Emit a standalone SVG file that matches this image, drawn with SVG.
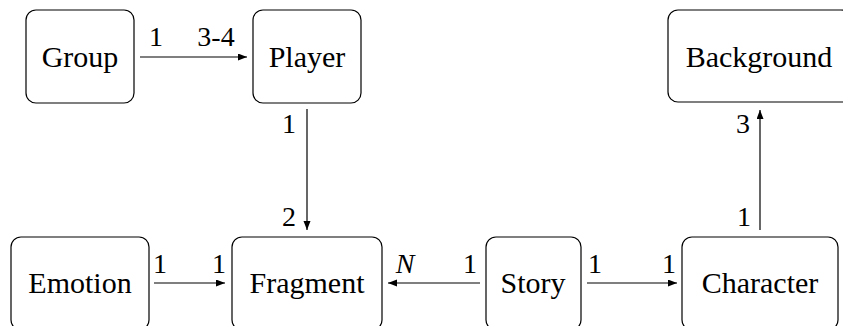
<svg xmlns="http://www.w3.org/2000/svg" width="843" height="326" viewBox="0 0 843 326">
<defs>
<marker id="ah" markerUnits="userSpaceOnUse" markerWidth="10" markerHeight="8" refX="9" refY="3.5" orient="auto">
<path d="M0,0 L9,3.5 L0,7 Z" fill="#000"/>
</marker>
</defs>
<g id="nodes" fill="#fff" stroke="#000" stroke-width="1.2">
<g id="group"><rect x="26" y="10" width="108" height="93" rx="10"/><text x="80" y="67" font-family="Times New Roman, serif" font-size="30" fill="#000" stroke="none" text-anchor="middle">Group</text></g>
<g id="player"><rect x="253" y="10" width="108" height="93" rx="10"/><text x="307" y="67" font-family="Times New Roman, serif" font-size="30" fill="#000" stroke="none" text-anchor="middle">Player</text></g>
<g id="background"><rect x="668" y="10" width="183" height="92" rx="10"/><text x="759" y="67" font-family="Times New Roman, serif" font-size="30" fill="#000" stroke="none" text-anchor="middle">Background</text></g>
<g id="emotion"><rect x="11" y="237" width="138" height="93" rx="10"/><text x="80" y="293" font-family="Times New Roman, serif" font-size="30" fill="#000" stroke="none" text-anchor="middle">Emotion</text></g>
<g id="fragment"><rect x="232" y="237" width="150" height="93" rx="10"/><text x="307" y="293" font-family="Times New Roman, serif" font-size="30" fill="#000" stroke="none" text-anchor="middle">Fragment</text></g>
<g id="story"><rect x="486" y="237" width="95" height="93" rx="10"/><text x="533" y="293" font-family="Times New Roman, serif" font-size="30" fill="#000" stroke="none" text-anchor="middle">Story</text></g>
<g id="character"><rect x="682" y="237" width="156" height="93" rx="10"/><text x="760" y="293" font-family="Times New Roman, serif" font-size="30" fill="#000" stroke="none" text-anchor="middle">Character</text></g>
</g>
<g id="connectors" fill="none" stroke="#000" stroke-width="1.2">
<path d="M140,57 H247" marker-end="url(#ah)"/>
<path d="M307,109 V230" marker-end="url(#ah)"/>
<path d="M154,283 H225" marker-end="url(#ah)"/>
<path d="M480,283 H388" marker-end="url(#ah)"/>
<path d="M587,283 H677" marker-end="url(#ah)"/>
<path d="M760,230 V110" marker-end="url(#ah)"/>
</g>
<g id="labels" font-family="Times New Roman, serif" font-size="28" fill="#000" text-anchor="middle">
<text x="156" y="46">1</text><text x="216" y="46">3-4</text>
<text x="289" y="133">1</text><text x="289" y="226">2</text>
<text x="160" y="273">1</text><text x="219" y="273">1</text>
<text x="405" y="273" font-style="italic">N</text><text x="470" y="273">1</text>
<text x="595" y="273">1</text><text x="669" y="273">1</text>
<text x="743" y="133">3</text><text x="744" y="226">1</text>
</g>
</svg>
